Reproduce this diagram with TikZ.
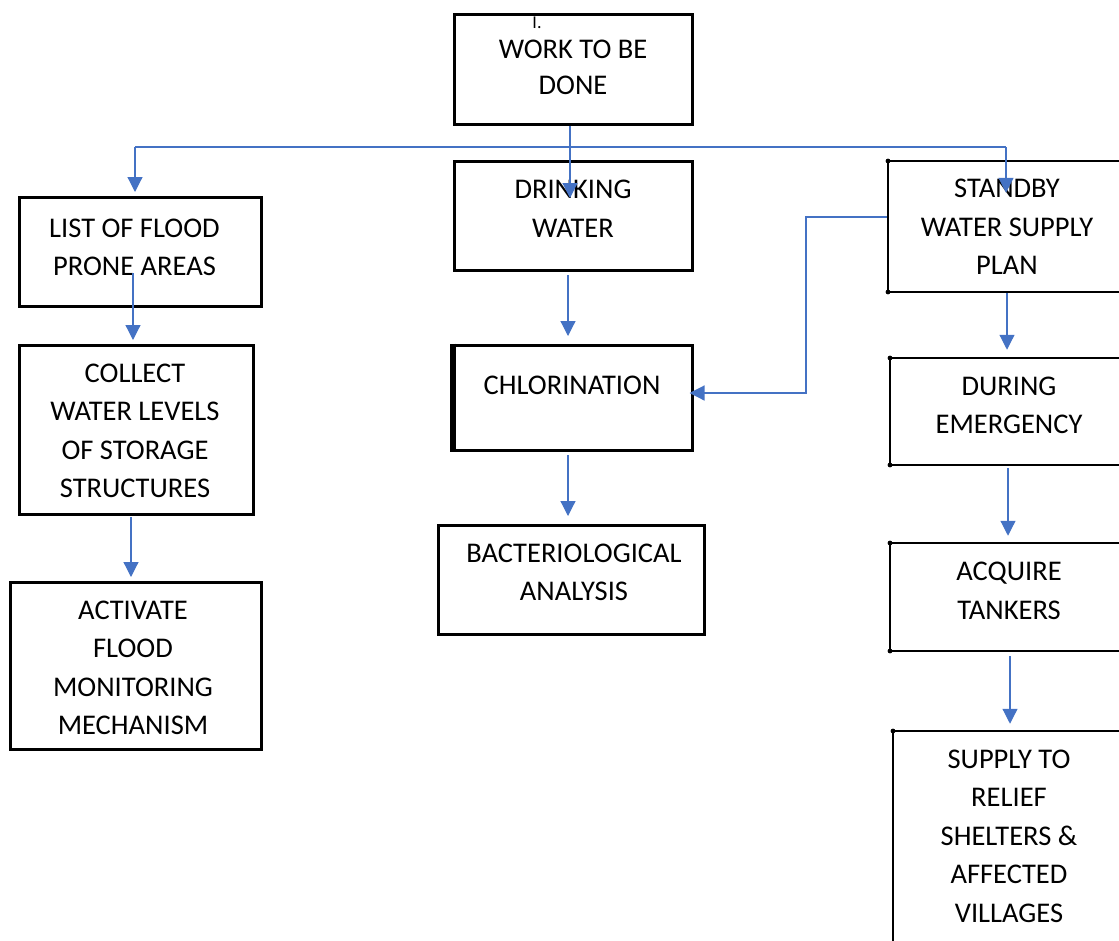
\documentclass[tikz,border=0pt]{standalone}
\usepackage{fontspec}
\setmainfont{Carlito}
\usetikzlibrary{arrows.meta,calc}
\definecolor{flowblue}{HTML}{4472C4}
\begin{document}
\begin{tikzpicture}[x=1pt,y=-1pt,
  box/.style={draw=black,line width=3pt,rectangle,inner sep=0pt},
  sidebox/.style={draw=black,line width=2.5pt,rectangle,inner sep=0pt},
  lbl/.style={align=center,inner sep=0pt,font=\fontsize{28.5}{38.5}\selectfont},
  flow/.style={draw=flowblue,line width=1.2pt,-{Triangle[width=15pt,length=15pt]}},
  link/.style={draw=flowblue,line width=1.2pt},
  dot/.style={fill=black},
]
\useasboundingbox (0,0) rectangle (1119,940);
\clip (0,0) rectangle (1119,940);

% --- boxes ---
\node[box,minimum width=238pt,minimum height=110pt] (work) at (573,69) {};
\node[box,minimum width=242pt,minimum height=109pt] (flood) at (140,251.5) {};
\node[box,minimum width=234pt,minimum height=169pt] (collect) at (136,429.5) {};
\node[box,minimum width=251pt,minimum height=167pt] (activate) at (135.5,665.5) {};
\node[box,minimum width=238pt,minimum height=109pt] (drink) at (573,215.5) {};
\node[box,minimum width=241pt,minimum height=105pt] (chlor) at (571.5,397.5) {};
\node[box,minimum width=266pt,minimum height=109pt] (bact) at (571,579.5) {};
\node[sidebox,minimum width=242pt,minimum height=131pt] (standby) at (1009,226.5) {};
\node[sidebox,minimum width=240pt,minimum height=107pt] (during) at (1010,411.5) {};
\node[sidebox,minimum width=240pt,minimum height=108pt] (acquire) at (1010,597) {};
\node[sidebox,minimum width=237pt,minimum height=249pt] (supply) at (1011.5,855.5) {};

% heavier left edge of the chlorination box
\draw[line width=6pt] ($(chlor.north west)+(3,0)$) -- ($(chlor.south west)+(3,0)$);

% small corner marks on the right-hand column
\foreach \b in {standby,during,acquire,supply}{
  \fill[dot] ($(\b.north west)+(1.25,1.25)$) circle (2.4pt);
  \fill[dot] ($(\b.south west)+(1.25,-1.25)$) circle (2.4pt);
}

% --- labels ---
\node[font=\fontsize{18}{20}\selectfont,inner sep=0pt] (num) at (537,23) {I.};
\node[lbl,font=\fontsize{28.5}{36.5}\selectfont] (t-work) at (573,67.5) {WORK TO BE\\DONE};
\node[lbl] (t-flood) at (134.5,247.5) {LIST OF FLOOD\\PRONE AREAS};
\node[lbl] (t-collect) at (135,431) {COLLECT\\WATER LEVELS\\OF STORAGE\\STRUCTURES};
\node[lbl] (t-activate) at (133,668) {ACTIVATE\\FLOOD\\MONITORING\\MECHANISM};
\node[lbl] (t-drink) at (573,208.5) {DRINKING\\WATER};
\node[lbl] (t-chlor) at (572,385) {CHLORINATION};
\node[lbl] (t-bact) at (574,572.5) {BACTERIOLOGICAL\\ANALYSIS};
\node[lbl] (t-standby) at (1007,227) {STANDBY\\WATER SUPPLY\\PLAN};
\node[lbl] (t-during) at (1009,405.5) {DURING\\EMERGENCY};
\node[lbl] (t-acquire) at (1009,591) {ACQUIRE\\TANKERS};
\node[lbl] (t-supply) at (1009,836) {SUPPLY TO\\RELIEF\\SHELTERS \&\\AFFECTED\\VILLAGES};

% --- connectors ---
\coordinate (busL) at (135,147);
\coordinate (busR) at (1006,147);
\coordinate (bend) at (806,393);
\draw[link] (busL) -- (busR);
\draw[flow] ($(work.south)+(-3,0)$) -- ($(drink.north)+(-3,38.5)$);
\draw[flow] (busL) -- ($(flood.north -| busL)+(0,-3.5)$);
\draw[flow] (busR) -- ($(standby.north -| busR)+(0,33)$);
\draw[flow] ($(flood.south)+(-7,-34.5)$) -- ($(collect.north)+(-3,-3.5)$);
\draw[flow] ($(collect.south)+(-5,1.5)$) -- ($(activate.north)+(-4.5,-3.5)$);
\draw[flow] ($(drink.south)+(-5,3.5)$) -- ($(chlor.north)+(-3.5,-7.5)$);
\draw[flow] ($(chlor.south)+(-3.5,3.5)$) -- ($(bact.north)+(-3,-7.5)$);
\draw[flow] ($(standby.south)+(-2,0)$) -- ($(during.north)+(-3,-7)$);
\draw[flow] ($(during.south)+(-2,2)$) -- ($(acquire.north)+(-2,-6)$);
\draw[flow] ($(acquire.south)+(0,4)$) -- ($(supply.north)+(-1.5,-6)$);
\draw[flow] ($(standby.west)+(0,-9.5)$) -| (bend) -- ($(chlor.east)+(-4,-4.5)$);
\end{tikzpicture}
\end{document}
